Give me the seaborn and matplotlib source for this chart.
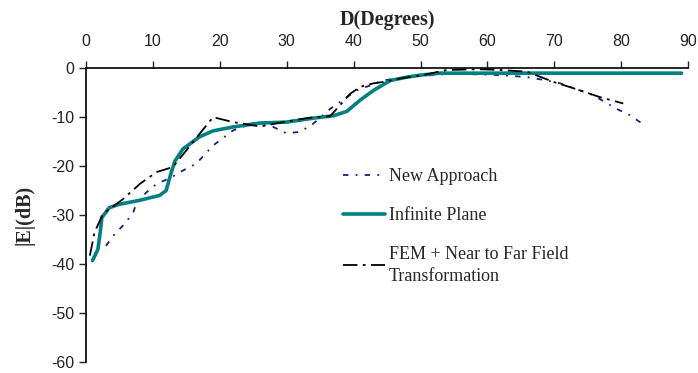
import matplotlib
matplotlib.use("Agg")
import matplotlib.pyplot as plt
import seaborn as sns

# New Approach
new_x = [3.0, 4.3, 5.8, 7.1, 7.6, 9.1, 10.6, 12.5, 14.5, 16.5, 19.0, 22.0, 25.0, 28.0,
         30.0, 32.0, 34.0, 36.5, 39.0, 40.5, 42.5, 44.4, 47.9, 54.9, 61.9, 65.9,
         68.9, 70.9, 75.8, 79.3, 81.3, 83.0]
new_y = [-36.3, -33.9, -31.8, -29.4, -27.4, -25.3, -23.6, -22.5, -20.9, -19.5, -15.8,
         -12.7, -11.2, -12.0, -13.3, -13.0, -11.3, -8.3, -5.9, -4.5, -3.5, -2.5, -1.8,
         -1.1, -1.4, -1.8, -2.5, -3.1, -5.5, -8.3, -9.6, -11.2]

# Infinite Plane
inf_x = [1.0, 1.8, 2.1, 2.4, 3.5, 5.0, 8.0, 11.0, 12.0, 12.6, 13.3, 14.5, 17.0, 19.0,
         22.0, 26.0, 30.0, 34.0, 37.0, 39.0, 41.0, 43.0, 45.5, 48.0, 50.0, 53.0, 89.0]
inf_y = [-39.3, -37.0, -34.0, -30.5, -28.5, -27.8, -27.0, -26.0, -25.0, -22.0, -19.0,
         -16.5, -14.0, -12.8, -12.0, -11.2, -11.0, -10.2, -9.7, -8.8, -6.5, -4.5, -2.5,
         -1.8, -1.4, -1.0, -1.0]

# FEM + Near to Far Field Transformation
fem_x = [0.6, 1.3, 2.6, 5.5, 8.1, 10.6, 13.0, 17.0, 19.0, 22.0, 26.0, 29.5, 33.5, 36.5,
         39.5, 41.0, 42.9, 44.4, 46.9, 50.4, 53.9, 58.9, 61.9, 65.9, 69.9, 73.8, 76.8,
         80.3]
fem_y = [-38.3, -33.5, -29.7, -26.8, -23.6, -21.2, -20.2, -13.4, -10.0, -11.0, -11.9,
         -11.0, -10.1, -9.8, -5.2, -3.8, -3.1, -2.8, -2.1, -1.4, -0.35, -0.2, -0.35,
         -0.7, -2.8, -4.5, -5.9, -7.2]

x_ticks = [0, 10, 20, 30, 40, 50, 60, 70, 80, 90]
y_ticks = [0, -10, -20, -30, -40, -50, -60]

sns.set_style("white")
plt.rcParams['font.family'] = ['Liberation Sans', 'DejaVu Sans']
plt.rcParams['axes.unicode_minus'] = False

fig = plt.figure(figsize=(6.98, 3.73), dpi=100)
ax = fig.add_axes([0.123, 0.030, 0.863, 0.787])

sns.lineplot(x=new_x, y=new_y, ax=ax, sort=False, color="#1a1a8c", lw=1.3,
             linestyle=(0, (3, 4, 1, 4)), label="New Approach")
sns.lineplot(x=inf_x, y=inf_y, ax=ax, sort=False, color="#008080", lw=2.6,
             label="Infinite Plane")
sns.lineplot(x=fem_x, y=fem_y, ax=ax, sort=False, color="black", lw=1.3,
             linestyle=(0, (8, 3, 1.5, 3)), label="FEM + Near to Far Field\nTransformation")

ax.set_xlim(0, 90)
ax.set_ylim(-60, 0)
ax.set_xticks(x_ticks)
ax.set_yticks(y_ticks)
ax.xaxis.tick_top()
ax.xaxis.set_label_position("top")
ax.tick_params(axis="both", direction="out", length=5, width=1, labelsize=11.5,
               colors="#222222", top=True, left=True, bottom=False, right=False)
ax.tick_params(axis="x", pad=9)

for side in ["bottom", "right"]:
    ax.spines[side].set_visible(False)
for side in ["top", "left"]:
    ax.spines[side].set_color("black")
    ax.spines[side].set_linewidth(1.2)

ax.set_xlabel("D(Degrees)", family="Liberation Serif", fontweight="bold",
              fontsize=14.5, labelpad=6)
ax.set_ylabel("|E|(dB)", family="Liberation Serif", fontweight="bold",
              fontsize=14.5, labelpad=12)

leg = ax.legend(loc="upper left", bbox_to_anchor=(0.40, 0.715), frameon=False,
                prop={"family": "Liberation Serif", "size": 13},
                handlelength=2.3, handletextpad=0.25, labelspacing=1.2)
for t in leg.get_texts():
    t.set_linespacing(1.4)

fig.savefig("out.png", dpi=100)
